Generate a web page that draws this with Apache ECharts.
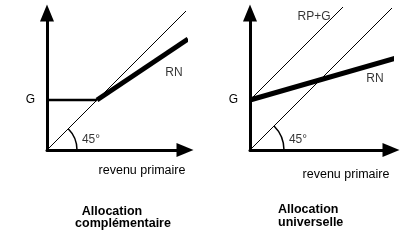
<!DOCTYPE html>
<html><head><meta charset="utf-8">
<script src="https://cdn.jsdelivr.net/npm/echarts@6/dist/echarts.min.js"></script>
<style>html,body{margin:0;padding:0;background:#fff}#c{width:414px;height:240px}</style>
</head><body><div id="c"></div>
<script>
// Values (1 unit = same scale on both axes)
const G = 50;
const leftDiag = [[0, 0], [141, 141]];
const leftG = [[0, 50], [50, 50]];
const leftRN = [[50, 50], [141, 111]];
const rightDiag = [[0, 0], [146, 146]];
const rightRPG = [[0, 50], [93, 143]];
const rightRN = [[0, 50], [150, 93]];
const arcRadius = [30, 34];
const leftLabels = [{ name: 'RN', value: [127, 77] }, { name: '45°', value: [44, 10] }];
const rightLabels = [{ name: 'RP+G', value: [64, 133] }, { name: 'RN', value: [125, 71] }, { name: '45°', value: [48, 10] }];
const yTickLabels = { 50: 'G' };

const FONT = 'Liberation Sans';
const axisLine = { show: true, lineStyle: { color: '#000', width: 3 }, symbol: ['none', 'triangle'], symbolSize: [14, 17] };

function xAx(gi, max) {
  return { type: 'value', gridIndex: gi, min: 0, max: max, axisLine: axisLine, axisTick: { show: false }, axisLabel: { show: false }, splitLine: { show: false } };
}
function yAx(gi, max) {
  return {
    type: 'value', gridIndex: gi, min: 0, max: max, interval: G, axisLine: axisLine, axisTick: { show: false }, splitLine: { show: false },
    axisLabel: { show: true, margin: 12, color: '#000', fontFamily: FONT, fontSize: 12, formatter: v => yTickLabels[v] || '' }
  };
}
function line(gi, data, w) {
  return { type: 'line', xAxisIndex: gi, yAxisIndex: gi, data: data, symbol: 'none', clip: false, silent: true, lineStyle: { color: '#000', width: w } };
}
function arc(gi, r) {
  return {
    type: 'custom', xAxisIndex: gi, yAxisIndex: gi, data: [[0, 0]], clip: false, silent: true,
    renderItem: (params, api) => {
      const c = api.coord([0, 0]);
      const rad = api.size([r, 0])[0];
      return { type: 'arc', shape: { cx: c[0], cy: c[1], r: rad, startAngle: -Math.PI / 4, endAngle: 0, clockwise: true }, style: { stroke: '#000', fill: null, lineWidth: 1.5 } };
    }
  };
}
function labels(gi, data) {
  return {
    type: 'scatter', xAxisIndex: gi, yAxisIndex: gi, data: data, symbolSize: 0, silent: true, clip: false,
    label: { show: true, position: 'inside', formatter: p => p.name, color: '#000', fontFamily: FONT, fontSize: 12 }
  };
}

const chart = echarts.init(document.getElementById('c'));
chart.setOption({
  animation: false,
  grid: [
    { left: 47, top: 13, width: 138, height: 137 },
    { left: 250, top: 13, width: 141, height: 137 }
  ],
  xAxis: [xAx(0, 138), xAx(1, 141)],
  yAxis: [yAx(0, 137), yAx(1, 137)],
  series: [
    line(0, leftDiag, 1), line(0, leftG, 2.5), line(0, leftRN, 5), arc(0, arcRadius[0]), labels(0, leftLabels),
    line(1, rightDiag, 1), line(1, rightRPG, 1), line(1, rightRN, 5), arc(1, arcRadius[1]), labels(1, rightLabels)
  ],
  graphic: [
    { type: 'text', x: 142, y: 171, style: { text: 'revenu primaire', font: '12.5px "Liberation Sans"', fill: '#000', align: 'center', verticalAlign: 'middle' } },
    { type: 'text', x: 346, y: 175, style: { text: 'revenu primaire', font: '12.5px "Liberation Sans"', fill: '#000', align: 'center', verticalAlign: 'middle' } },
    { type: 'text', x: 112, y: 212, style: { text: 'Allocation', font: 'bold 12.5px "Liberation Sans"', fill: '#000', align: 'center', verticalAlign: 'middle' } },
    { type: 'text', x: 123, y: 224, style: { text: 'complémentaire', font: 'bold 12.5px "Liberation Sans"', fill: '#000', align: 'center', verticalAlign: 'middle' } },
    { type: 'text', x: 278, y: 210, style: { text: 'Allocation', font: 'bold 12.5px "Liberation Sans"', fill: '#000', align: 'left', verticalAlign: 'middle' } },
    { type: 'text', x: 278, y: 223, style: { text: 'universelle', font: 'bold 12.5px "Liberation Sans"', fill: '#000', align: 'left', verticalAlign: 'middle' } }
  ]
});
</script></body></html>
